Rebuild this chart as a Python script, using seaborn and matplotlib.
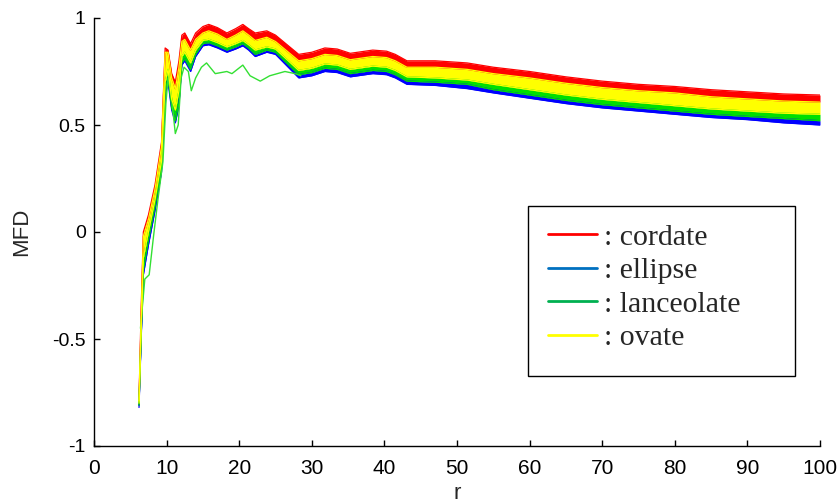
import seaborn as sns
import matplotlib.pyplot as plt
import matplotlib.patches as mpatches
from matplotlib.lines import Line2D
import pandas as pd
import numpy as np

# r positions where the bundle edges were read
r = [6.2, 6.5, 6.8, 7.5, 8.4, 9.3, 9.8, 10.2, 10.7, 11.2, 11.7, 12.1, 12.5, 13.3,
     14.0, 15.0, 15.8, 17.0, 18.3, 19.5, 20.5, 21.3, 22.2, 23.8, 25.0, 28.2, 30.0,
     31.8, 33.5, 35.3, 38.4, 40.3, 41.5, 43.1, 47.0, 51.4, 55, 60, 65, 70, 75, 80,
     85, 90, 95, 100]

# visible edges of the bundles, top to bottom
red_top = [-0.78, -0.35, 0.0, 0.08, 0.22, 0.42, 0.86, 0.85, 0.74, 0.70, 0.80, 0.92, 0.93, 0.88,
           0.93, 0.96, 0.97, 0.955, 0.93, 0.95, 0.97, 0.95, 0.93, 0.94, 0.92, 0.83, 0.84,
           0.86, 0.855, 0.835, 0.85, 0.845, 0.83, 0.80, 0.80, 0.79, 0.77, 0.75, 0.725, 0.705,
           0.69, 0.68, 0.665, 0.655, 0.645, 0.64]
red_low = [-0.79, -0.40, -0.02, 0.06, 0.20, 0.40, 0.84, 0.84, 0.72, 0.67, 0.77, 0.89, 0.90, 0.85,
           0.90, 0.93, 0.94, 0.925, 0.90, 0.92, 0.94, 0.92, 0.895, 0.91, 0.89, 0.80, 0.81,
           0.83, 0.825, 0.805, 0.82, 0.815, 0.80, 0.77, 0.77, 0.76, 0.74, 0.72, 0.695, 0.675,
           0.66, 0.65, 0.632, 0.622, 0.612, 0.607]
yellow_low = [-0.80, -0.45, -0.12, 0.0, 0.15, 0.33, 0.70, 0.76, 0.62, 0.57, 0.66, 0.82, 0.84, 0.79,
              0.85, 0.895, 0.90, 0.885, 0.865, 0.88, 0.895, 0.875, 0.85, 0.865, 0.855, 0.755, 0.765,
              0.785, 0.78, 0.76, 0.775, 0.77, 0.755, 0.725, 0.72, 0.71, 0.69, 0.665, 0.64, 0.62,
              0.605, 0.59, 0.575, 0.565, 0.555, 0.55]
green_low = [-0.81, -0.48, -0.18, -0.04, 0.12, 0.30, 0.66, 0.72, 0.58, 0.52, 0.60, 0.79, 0.81, 0.76,
             0.83, 0.88, 0.885, 0.87, 0.85, 0.865, 0.88, 0.86, 0.83, 0.85, 0.84, 0.735, 0.745,
             0.765, 0.76, 0.74, 0.755, 0.75, 0.735, 0.705, 0.70, 0.69, 0.665, 0.64, 0.615, 0.595,
             0.58, 0.565, 0.55, 0.54, 0.53, 0.52]
blue_low = [-0.82, -0.50, -0.20, -0.06, 0.10, 0.28, 0.64, 0.70, 0.57, 0.51, 0.59, 0.78, 0.80, 0.75,
            0.82, 0.87, 0.875, 0.86, 0.84, 0.855, 0.87, 0.85, 0.82, 0.84, 0.83, 0.72, 0.73,
            0.75, 0.745, 0.725, 0.74, 0.735, 0.72, 0.69, 0.685, 0.67, 0.65, 0.625, 0.60, 0.58,
            0.565, 0.55, 0.535, 0.525, 0.51, 0.50]

# one lanceolate curve that falls below the rest
r_out = [6.4, 7.0, 7.6, 8.2, 8.8, 9.5, 9.9, 10.2, 10.7, 11.2, 11.6, 12.0, 12.4, 13.0, 13.4,
         14.0, 14.8, 15.5, 16.7, 18.3, 19.0, 20.5, 21.5, 22.9, 24.2, 26.3, 27.7, 28.5]
mfd_out = [-0.45, -0.22, -0.20, -0.02, 0.15, 0.33, 0.60, 0.72, 0.62, 0.46, 0.50, 0.72, 0.77, 0.75,
           0.66, 0.72, 0.77, 0.79, 0.74, 0.75, 0.74, 0.78, 0.73, 0.705, 0.73, 0.75, 0.74, 0.73]

classes = ['cordate', 'ellipse', 'lanceolate', 'ovate']
line_colors = {'cordate': '#FF0000', 'ellipse': '#0000FF', 'lanceolate': '#00E000', 'ovate': '#FFFF00'}
legend_colors = ['#FF0000', '#0070C0', '#00B050', '#FFFF00']
bands = {'cordate': (red_low, red_top), 'ellipse': (blue_low, green_low),
         'lanceolate': (green_low, yellow_low), 'ovate': (yellow_low, red_low)}

sns.set_style('ticks')
plt.rcParams['font.family'] = ['Liberation Sans', 'DejaVu Sans']

fig = plt.figure(figsize=(8.4, 5.03), dpi=100)
ax = fig.add_axes([94 / 840, 1 - 446 / 503, (820 - 94) / 840, (446 - 18) / 503])


def draw_band(name, color):
    lo, hi = bands[name]
    ax.fill_between(r, lo, hi, color=color, lw=0)
    df = pd.DataFrame({'r': r * 2, 'MFD': lo + hi, 'edge': ['lo'] * len(r) + ['hi'] * len(r)})
    sns.lineplot(data=df, x='r', y='MFD', units='edge', estimator=None, color=color, lw=0.9, ax=ax)


for name in ['cordate', 'ellipse', 'lanceolate']:
    draw_band(name, line_colors[name])

sns.lineplot(x=r_out, y=mfd_out, color='#33E033', lw=1, ax=ax)
draw_band('ovate', line_colors['ovate'])

ax.set_xlim(0, 100)
ax.set_ylim(-1, 1)
ax.set_xticks(range(0, 101, 10))
ax.set_yticks([-1, -0.5, 0, 0.5, 1])
ax.set_yticklabels(['-1', '-0.5', '0', '0.5', '1'])
ax.tick_params(direction='in', length=4, width=1, colors='black')
ax.tick_params(axis='x', labelsize=15, pad=9)
ax.tick_params(axis='y', labelsize=14, pad=6)
sns.despine(ax=ax)
for s in ['left', 'bottom']:
    ax.spines[s].set_color('black')
    ax.spines[s].set_linewidth(1)
ax.set_xlabel('r', fontsize=16, labelpad=4)
ax.set_ylabel('MFD', fontsize=16, labelpad=14)

# legend box
fig.patches.append(mpatches.Rectangle((528 / 840, 1 - 376 / 503), (795 - 528) / 840, (376 - 206) / 503,
                                      transform=fig.transFigure, fill=False, ec='black', lw=1))
handles = [Line2D([0], [0], color=c, lw=2) for c in legend_colors]
fig.legend(handles, [': ' + c for c in classes], loc='upper left',
           bbox_to_anchor=(548 / 840, 1 - 224 / 503), frameon=False,
           prop={'family': 'Liberation Serif', 'size': 21.5}, handlelength=1.64,
           handletextpad=0.23, labelspacing=0.22, borderpad=0, borderaxespad=0)

fig.savefig('out.png', dpi=100)
